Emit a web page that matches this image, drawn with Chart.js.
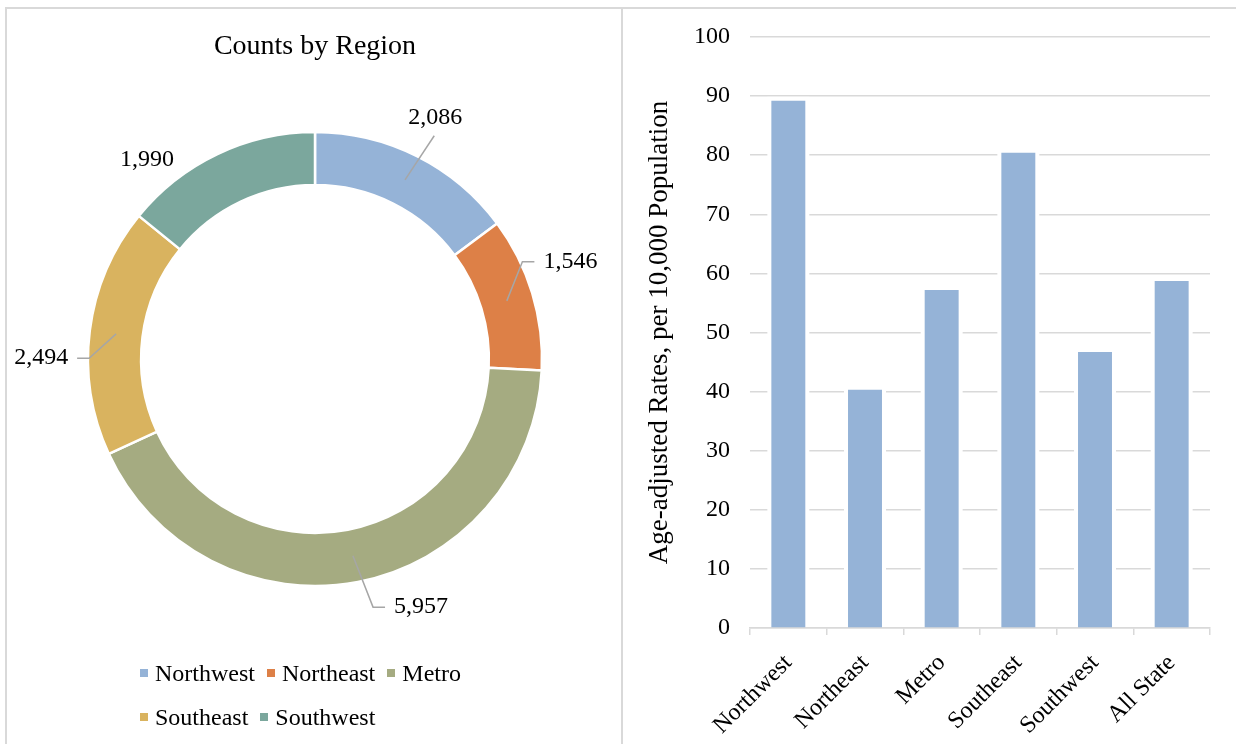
<!DOCTYPE html>
<html>
<head>
<meta charset="utf-8">
<script src="https://cdn.jsdelivr.net/npm/chart.js@4.4.1/dist/chart.umd.min.js"></script>
<style>
  body { margin: 0; width: 1236px; height: 744px; background: #fff; position: relative; overflow: hidden;
         font-family: "Liberation Serif", "Times New Roman", serif; }
  #frame { position: absolute; left: 5px; top: 7px; width: 1240px; height: 760px;
           border-top: 2px solid #d9d9d9; border-left: 2px solid #d9d9d9; }
  #divider { position: absolute; left: 621px; top: 7px; width: 2px; height: 740px; background: #d9d9d9; }
  #pieWrap { position: absolute; left: 0; top: 0; width: 630px; height: 744px; }
  #barWrap { position: absolute; left: 624px; top: 0; width: 612px; height: 744px; }
  #legend { position: absolute; left: 140px; top: 651px; width: 340px; display: flex; flex-wrap: wrap;
            font-size: 24px; color: #000; }
  #legend .item { display: flex; align-items: center; height: 44px; margin-right: 12px; }
  #legend .sw { width: 8px; height: 8px; margin-right: 7px; }
</style>
</head>
<body>
<div id="frame"></div>
<div id="divider"></div>
<div id="pieWrap"><canvas id="pie"></canvas></div>
<div id="barWrap"><canvas id="bar"></canvas></div>
<div id="legend"></div>

<script>
// 1. DATA
// ------------------------------------------------------------------
const regions = ['Northwest', 'Northeast', 'Metro', 'Southeast', 'Southwest'];
const counts = [2086, 1546, 5957, 2494, 1990];
const regionColors = ['#95B3D7', '#DD8047', '#A5AB81', '#D9B35F', '#7BA79D'];

const rateLabels = ['Northwest', 'Northeast', 'Metro', 'Southeast', 'Southwest', 'All State'];
const rates = [89.2, 40.3, 57.2, 80.4, 46.7, 58.7];
const barColor = '#95B3D7';

const serif = '"Liberation Serif", "Times New Roman", serif';
Chart.defaults.font.family = serif;
Chart.defaults.color = '#000';

// 2. PLUGINS
// ------------------------------------------------------------------
// value labels around the ring, with grey leader lines (Excel style)
const pieLabels = {
    id: 'pieLabels',
    afterDatasetsDraw(chart, args, opts) {
        const ctx = chart.ctx;
        const meta = chart.getDatasetMeta(0);
        ctx.save();
        ctx.font = '24px ' + serif;
        ctx.textAlign = 'center';
        ctx.textBaseline = 'middle';
        meta.data.forEach((arc, i) => {
            const p = arc.getProps(['x', 'y', 'startAngle', 'endAngle'], true);
            const mid = (p.startAngle + p.endAngle) / 2;
            const lx = p.x + Math.cos(mid) * opts.labelRadius + opts.nudge[i][0];
            const ly = p.y + Math.sin(mid) * opts.labelRadius + opts.nudge[i][1];
            const a = arc.getCenterPoint(true);
            const txt = counts[i].toLocaleString('en-US');
            const w = ctx.measureText(txt).width;
            if (opts.leader[i]) {
                ctx.strokeStyle = '#a6a6a6';
                ctx.lineWidth = 1.5;
                ctx.beginPath();
                ctx.moveTo(a.x, a.y);
                if (Math.abs(lx - a.x) < Math.abs(ly - a.y) * 0.7) {
                    ctx.lineTo(lx - 1, ly + (ly > a.y ? -18 : 18));
                } else {
                    const s = lx > a.x ? 1 : -1;
                    const ex = lx - s * (w / 2 + 9);
                    ctx.lineTo(ex - s * 12, ly);
                    ctx.lineTo(ex, ly);
                }
                ctx.stroke();
            }
            ctx.fillStyle = '#000';
            ctx.fillText(txt, lx, ly);
        });
        ctx.restore();
    }
};

// white halo behind the bars so gridlines stop short of them
const barHalo = {
    id: 'barHalo',
    beforeDatasetsDraw(chart, args, opts) {
        const ctx = chart.ctx;
        ctx.save();
        ctx.fillStyle = '#fff';
        chart.getDatasetMeta(0).data.forEach(bar => {
            const b = bar.getProps(['x', 'y', 'base', 'width'], true);
            ctx.fillRect(b.x - b.width / 2 - opts.pad, b.y - opts.pad,
                         b.width + 2 * opts.pad, b.base - b.y + opts.pad - 1.5);
        });
        ctx.restore();
    }
};

// 3. DOUGHNUT
// ------------------------------------------------------------------
new Chart(document.getElementById('pie'), {
    type: 'doughnut',
    data: {
        labels: regions,
        datasets: [{
            data: counts,
            backgroundColor: regionColors,
            borderColor: '#fff',
            borderWidth: 2.5
        }]
    },
    options: {
        responsive: true,
        maintainAspectRatio: false,
        animation: false,
        radius: 227,
        cutout: '76.6%',
        layout: { padding: { top: 0, bottom: 99.6, left: 0, right: 0 } },
        plugins: {
            legend: { display: false },
            tooltip: { enabled: false },
            title: {
                display: true,
                text: 'Counts by Region',
                color: '#000',
                font: { size: 28, weight: 'normal', family: serif },
                padding: { top: 30, bottom: 10 }
            },
            pieLabels: {
                labelRadius: 270,
                nudge: [[-1, 0], [-3, -19], [55, -17], [-6, 33], [-52, 44]],
                leader: [true, true, true, true, false]
            }
        }
    },
    plugins: [pieLabels]
});

// html legend, left aligned rows like the original
const legendEl = document.getElementById('legend');
regions.forEach((r, i) => {
    const item = document.createElement('div');
    item.className = 'item';
    item.innerHTML = `<span class="sw" style="background:${regionColors[i]}"></span><span>${r}</span>`;
    legendEl.appendChild(item);
});

// 4. BAR CHART
// ------------------------------------------------------------------
new Chart(document.getElementById('bar'), {
    type: 'bar',
    data: {
        labels: rateLabels,
        datasets: [{
            data: rates,
            backgroundColor: barColor,
            borderWidth: 0,
            barPercentage: 0.443,
            categoryPercentage: 1
        }]
    },
    options: {
        responsive: true,
        maintainAspectRatio: false,
        animation: false,
        layout: { padding: { top: 37, right: 26, left: 0, bottom: 0 } },
        plugins: {
            legend: { display: false },
            tooltip: { enabled: false },
            barHalo: { pad: 4 }
        },
        scales: {
            y: {
                min: 0,
                max: 100,
                afterFit: (s) => { s.width = 126; },
                border: { display: false },
                grid: { color: '#d9d9d9', lineWidth: 1.5, drawTicks: false },
                ticks: { stepSize: 10, padding: 20, color: '#000', font: { size: 24 } },
                title: {
                    display: true,
                    text: 'Age-adjusted Rates, per 10,000 Population',
                    color: '#000',
                    font: { size: 27, family: serif },
                    padding: { top: 20, bottom: 0 }
                }
            },
            x: {
                afterFit: (s) => { s.height = 116; },
                border: { display: true, color: '#d9d9d9', width: 1.5 },
                grid: { offset: true, drawOnChartArea: false, drawTicks: true, tickLength: 7,
                        color: '#d9d9d9', lineWidth: 1.5 },
                ticks: { autoSkip: false, maxRotation: 45, minRotation: 45, padding: 14,
                         color: '#000', font: { size: 24 } }
            }
        }
    },
    plugins: [barHalo]
});
</script>
</body>
</html>
